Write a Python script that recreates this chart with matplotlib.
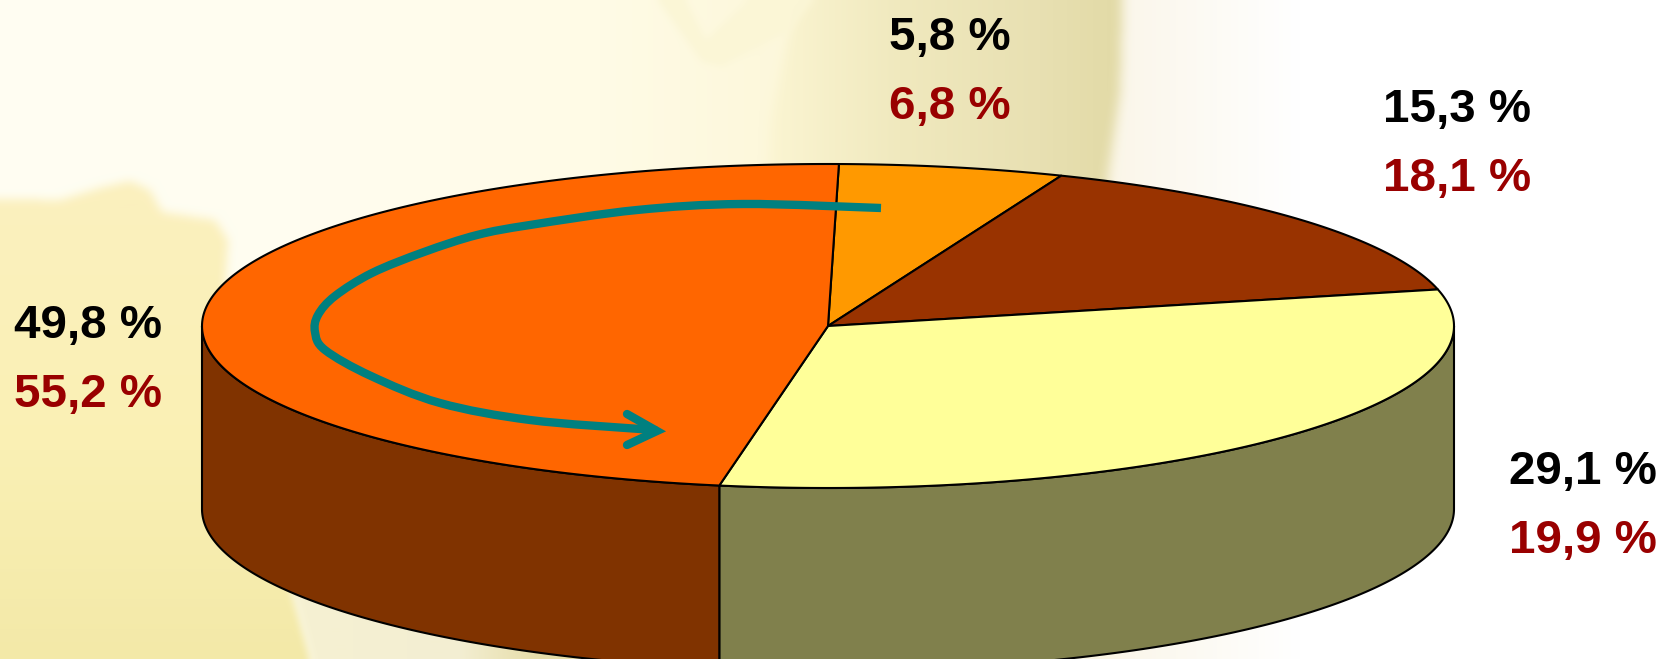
import numpy as np
import matplotlib
matplotlib.use("Agg")
import matplotlib.pyplot as plt
from matplotlib.colors import to_rgb
from matplotlib.path import Path
from matplotlib.patches import PathPatch

plt.rcParams['font.family'] = ['Liberation Sans', 'DejaVu Sans']

# share of the disc each slice takes up in the picture, clockwise from the top
slice_names = ['amber', 'brown', 'yellow', 'orange']
slice_shares = [5.8, 15.3, 31.4, 47.5]
top_colors = ['#FF9900', '#993300', '#FFFF99', '#FF6600']
side_colors = ['#7F4C00', '#4C1900', '#80804C', '#803300']
start_angle = 1.0

# two label rows per slice
labels_black = ['5,8 %', '15,3 %', '29,1 %', '49,8 %']
labels_red = ['6,8 %', '18,1 %', '19,9 %', '55,2 %']
label_left = [889, 1383, 1509, 14]
label_base = [50, 122, 484, 338]

cx, cy = 828, 326
rx, ry = 626, 162
depth = 183

W, H = 1664, 659
fig = plt.figure(figsize=(W / 100, H / 100), dpi=100)
ax = fig.add_axes([0, 0, 1, 1])
ax.set_xlim(0, W)
ax.set_ylim(H, 0)
ax.axis('off')

# Background: soft washed out picture, painted layer by layer
gx, gy = np.meshgrid(np.arange(W) + 0.5, np.arange(H) + 0.5)
grid = np.column_stack([gx.ravel(), gy.ravel()])


def blur(a, r):
    # box blur, twice, along both axes
    for _ in range(2):
        for axis in (0, 1):
            p = np.pad(a, [(r + 1, r) if i == axis else (0, 0) for i in range(2)], mode='edge')
            c = np.cumsum(p, axis=axis)
            if axis == 0:
                a = (c[2 * r + 1:, :] - c[:-(2 * r + 1), :]) / (2 * r + 1)
            else:
                a = (c[:, 2 * r + 1:] - c[:, :-(2 * r + 1)]) / (2 * r + 1)
    return a


def ramp(vals, stops, colors):
    cols = np.array([to_rgb(c) for c in colors])
    return np.stack([np.interp(vals, stops, cols[:, i]) for i in range(3)], axis=-1)


def layer(bg, poly, color, r=3):
    mask = Path(poly).contains_points(grid).reshape(H, W).astype(float)
    mask = blur(mask, r)[..., None]
    return bg * (1 - mask) + color * mask


bg = ramp(gx, [0, 300, 600, 760, 1108, 1135, 1300, W],
          ['#FFFEF3', '#FFFDF0', '#FFFBE6', '#FDF8DC', '#FBF6E6', '#FBF7EC', '#FFFFFF', '#FFFFFF'])
# globe at the top, behind the pie
bg = layer(bg, [(800, -20), (1123, -20), (1120, 90), (1108, 175), (1090, 320), (760, 320), (770, 120)],
           ramp(gx, [770, 900, 1040, 1120], ['#FBF5D2', '#F0E9BE', '#E8E0B2', '#E2DAA6']), r=6)
# pale band shaped like a V at the top of the globe
bg = layer(bg, [(643, -20), (676, -20), (706, 40), (770, -20), (830, -20), (790, 30), (722, 66), (702, 62)],
           np.array(to_rgb('#FBF6D6')), r=4)
# land shape at the left
land = [(-20, 198), (60, 200), (100, 188), (130, 181), (150, 190), (162, 212), (215, 220),
        (228, 240), (225, 285), (300, 400), (292, 587), (318, 680), (-20, 680)]
bg = layer(bg, land, ramp(gy, [200, 450, 659], ['#FBF0BE', '#FAF0B4', '#F3E9A8']), r=5)
bg = layer(bg, [(292, 587), (300, 500), (700, 500), (700, 680), (318, 680)],
           ramp(gx, [300, 460, 540, 680], ['#F6F1D2', '#F3EED2', '#E6DDA8', '#E0D8A0']), r=4)
ax.imshow(np.clip(bg, 0, 1), extent=[0, W, H, 0], aspect='auto', zorder=0, interpolation='bilinear')


# Pie
def rim(a0, a1, dy=0.0):
    # a0, a1 in degrees clockwise from the top of the disc
    a = np.radians(np.linspace(a0, a1, 200))
    return cx + rx * np.sin(a), cy - ry * np.cos(a) + dy


edges = start_angle + np.cumsum([0] + slice_shares) * 3.6

# side wall only where the disc faces us (90 to 270 degrees)
for i in range(len(slice_shares)):
    a0, a1 = max(edges[i], 90), min(edges[i + 1], 270)
    if a1 <= a0:
        continue
    xs, ys = rim(a0, a1)
    xb, yb = rim(a1, a0, depth)
    ax.fill(np.r_[xs, xb], np.r_[ys, yb], facecolor=side_colors[i], edgecolor='black', lw=1.5, zorder=5)

for i in range(len(slice_shares)):
    xs, ys = rim(edges[i], edges[i + 1])
    ax.fill(np.r_[cx, xs], np.r_[cy, ys], facecolor=top_colors[i], edgecolor='black', lw=1.5,
            joinstyle='round', zorder=6)

# Arrow over the orange slice, smooth curve through the points
arrow_x = [881, 743, 637, 530, 477, 424, 372, 335, 318, 315, 325, 371, 440, 530, 640, 655]
arrow_y = [208, 204, 210, 225, 235, 252, 273, 296, 315, 332, 350, 376, 403, 420, 429, 430]
pts = np.column_stack([arrow_x, arrow_y]).astype(float)
verts = [pts[0]]
codes = [Path.MOVETO]
for i in range(len(pts) - 1):
    p0 = pts[max(i - 1, 0)]
    p3 = pts[min(i + 2, len(pts) - 1)]
    verts += [pts[i] + (pts[i + 1] - p0) / 6, pts[i + 1] - (p3 - pts[i]) / 6, pts[i + 1]]
    codes += [Path.CURVE4] * 3
ax.add_patch(PathPatch(Path(verts, codes), facecolor='none', edgecolor='#008080', lw=6,
                       capstyle='butt', zorder=7))
ax.plot([627, 657, 627], [414, 431, 445], color='#008080', lw=6,
        solid_capstyle='round', solid_joinstyle='miter', zorder=7)

# Labels
for i in range(len(labels_black)):
    ax.text(label_left[i], label_base[i], labels_black[i], color='black', fontsize=34.2,
            fontweight='bold', ha='left', va='baseline', zorder=8)
    ax.text(label_left[i], label_base[i] + 69, labels_red[i], color='#990000', fontsize=34.2,
            fontweight='bold', ha='left', va='baseline', zorder=8)

fig.savefig('out.png', dpi=100)
